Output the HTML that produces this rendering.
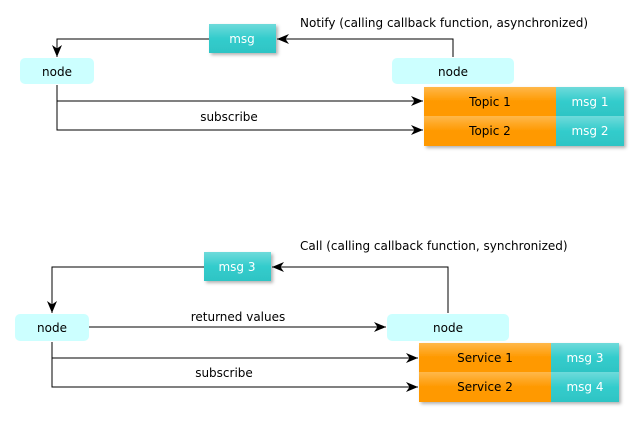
<!DOCTYPE html><html><head><style>body{margin:0;background:#fff}</style></head><body>
<svg width="639" height="418" xmlns="http://www.w3.org/2000/svg" font-family="DejaVu Sans, sans-serif" font-size="12">
<defs>
<marker id="a" markerWidth="12" markerHeight="10" refX="12" refY="5" orient="auto" markerUnits="userSpaceOnUse"><path d="M0,0 L12,5 L0,10 L3.5,5z" fill="#000"/></marker>
<linearGradient id="c" x1="0" y1="0" x2="0" y2="1"><stop offset="0" stop-color="#6fdada"/><stop offset="0.5" stop-color="#33cccc"/><stop offset="1" stop-color="#2ec4c4"/></linearGradient>
<linearGradient id="o" x1="0" y1="0" x2="0" y2="1"><stop offset="0" stop-color="#ffb84a"/><stop offset="0.5" stop-color="#ff9900"/><stop offset="1" stop-color="#ff9900"/></linearGradient>
<filter id="s"><feDropShadow dx="2" dy="2" stdDeviation="1.5" flood-opacity="0.3"/></filter>
</defs>
<g fill="none" stroke="#000" stroke-width="1">
<polyline points="209,39 57,39 57,57" marker-end="url(#a)"/>
<polyline points="453,57 453,39 277,39" marker-end="url(#a)"/>
<polyline points="57,85 57,101 423,101" marker-end="url(#a)"/>
<polyline points="57,101 57,130 423,130" marker-end="url(#a)"/>
<polyline points="204,267 52,267 52,313" marker-end="url(#a)"/>
<polyline points="448,313 448,267 272,267" marker-end="url(#a)"/>
<line x1="89" y1="327" x2="386" y2="327" marker-end="url(#a)"/>
<polyline points="52,342 52,358 418,358" marker-end="url(#a)"/>
<polyline points="52,358 52,387 418,387" marker-end="url(#a)"/>
</g>
<g fill="#ccffff">
<rect x="20" y="58" width="74" height="26" rx="5"/>
<rect x="392" y="58" width="122" height="26" rx="5"/>
<rect x="15" y="314" width="74" height="27" rx="5"/>
<rect x="387" y="314" width="122" height="27" rx="5"/>
</g>
<g filter="url(#s)">
<rect x="209" y="24" width="67" height="29" fill="url(#c)"/>
<rect x="204" y="252" width="67" height="29" fill="url(#c)"/>
<rect x="424" y="87" width="132" height="29" fill="url(#o)"/>
<rect x="424" y="116" width="132" height="30" fill="url(#o)"/>
<rect x="556" y="87" width="68" height="29" fill="url(#c)"/>
<rect x="556" y="116" width="68" height="30" fill="url(#c)"/>
<rect x="419" y="343" width="132" height="29" fill="url(#o)"/>
<rect x="419" y="372" width="132" height="30" fill="url(#o)"/>
<rect x="551" y="343" width="68" height="29" fill="url(#c)"/>
<rect x="551" y="372" width="68" height="30" fill="url(#c)"/>
</g>
<g text-anchor="middle" fill="#000">
<text x="57" y="76">node</text>
<text x="453" y="76">node</text>
<text x="52" y="332">node</text>
<text x="448" y="332">node</text>
<text x="490" y="106">Topic 1</text>
<text x="490" y="135">Topic 2</text>
<text x="485" y="362">Service 1</text>
<text x="485" y="391">Service 2</text>
<text x="229" y="121">subscribe</text>
<text x="224" y="377">subscribe</text>
<text x="238" y="321">returned values</text>
</g>
<g text-anchor="middle" fill="#fff">
<text x="242" y="43">msg</text>
<text x="237" y="271">msg 3</text>
<text x="590" y="106">msg 1</text>
<text x="590" y="135">msg 2</text>
<text x="585" y="362">msg 3</text>
<text x="585" y="391">msg 4</text>
</g>
<text x="300" y="27">Notify (calling callback function, asynchronized)</text>
<text x="300" y="250">Call (calling callback function, synchronized)</text>
</svg>
</body></html>
